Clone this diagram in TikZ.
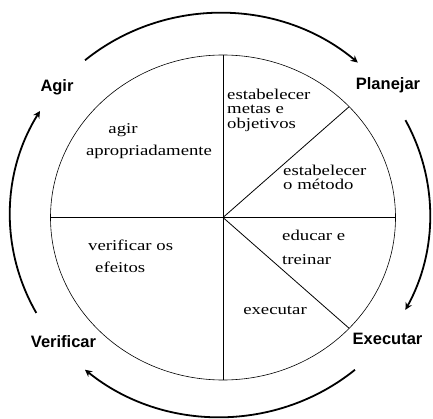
\documentclass[tikz,border=0pt]{standalone}
\usepackage{fontspec}
\usetikzlibrary{calc,arrows.meta}
\newfontfamily\serf[FakeStretch=1.25]{Liberation Serif}
\newfontfamily\bsf{Liberation Sans}
\begin{document}
\begin{tikzpicture}[x=1pt,y=1pt,
  inner/.style={font=\serf\fontsize{15}{14.5}\selectfont,inner sep=0pt,align=left},
  phase/.style={font=\bsf\bfseries\fontsize{16.5}{18}\selectfont,inner sep=0pt},
  divider/.style={line width=0.8pt},
  cycle/.style={line width=1.8pt,-{Stealth[length=7pt,width=7pt]}}]
\useasboundingbox (0,0) rectangle (433,418);
% inner circle
\coordinate (C) at (223,200.5);
\draw[line width=0.6pt] (C) ellipse [x radius=172.5pt, y radius=162.5pt];
\coordinate (T) at ($(C)+(90:172.5 and 162.5)$);
\coordinate (B) at ($(C)+(270:172.5 and 162.5)$);
\coordinate (L) at ($(C)+(180:172.5 and 162.5)$);
\coordinate (R) at ($(C)+(0:172.5 and 162.5)$);
\coordinate (UR) at ($(C)+(43:172.5 and 162.5)$);
\coordinate (LR) at ($(C)+(-43:172.5 and 162.5)$);
\draw[divider] (T) -- (B);
\draw[divider] (L) -- (R);
\draw[divider] (C) -- (UR);
\draw[divider] (C) -- (LR);
% outer cycle arrows
\coordinate (O) at (220,203);
\coordinate (s1) at ($(O)+(130:210 and 202)$);
\coordinate (s2) at ($(O)+(28:210 and 202)$);
\coordinate (s3) at ($(O)+(-50:210 and 202)$);
\coordinate (s4) at ($(O)+(-151:210 and 202)$);
\draw[cycle] (s1) arc[start angle=130, end angle=49, x radius=210pt, y radius=202pt];
\draw[cycle] (s2) arc[start angle=28, end angle=-28, x radius=210pt, y radius=202pt];
\draw[cycle] (s3) arc[start angle=-50, end angle=-130, x radius=210pt, y radius=202pt];
\draw[cycle] (s4) arc[start angle=-151, end angle=-211, x radius=210pt, y radius=202pt];
% phase labels
\node[phase] (agir) at (57,331) {Agir};
\node[phase] (plan) at (388,333) {Planejar};
\node[phase] (verif) at (63.5,76) {Verificar};
\node[phase] (exec) at (387.5,79) {Executar};
% inner texts
\node[inner,anchor=west] (metas) at (227,308) {estabelecer\\metas e\\objetivos};
\node[inner,anchor=west] (metodo) at (283,240.5) {estabelecer\\o método};
\node[inner] (agirt) at (123,288) {agir};
\node[inner] (aprop) at (149,266) {apropriadamente};
\node[inner,anchor=west] (educ) at (282,183) {educar e};
\node[inner,anchor=west] (trein) at (282,158) {treinar};
\node[inner] (exect) at (275,108) {executar};
\node[inner,anchor=west] (verifos) at (88,173) {verificar os};
\node[inner,anchor=west] (efeitos) at (95,151) {efeitos};
\end{tikzpicture}
\end{document}
